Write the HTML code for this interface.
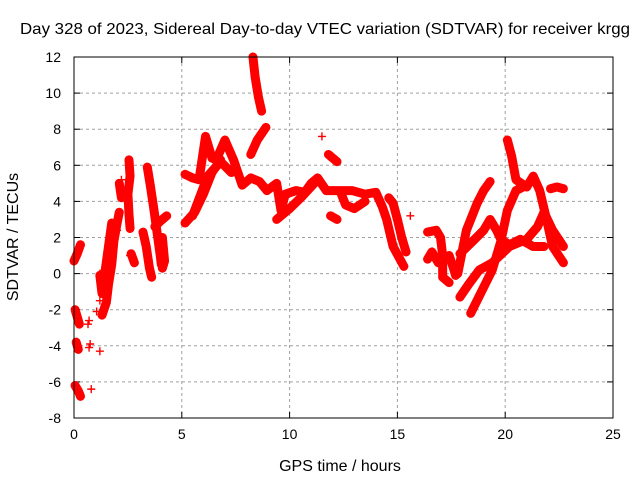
<!DOCTYPE html>
<html><head><meta charset="utf-8"><style>
body{margin:0;background:#fff;}
svg{display:block;font-family:"Liberation Sans",sans-serif;}
</style></head><body>
<svg id="chart" width="640" height="480" viewBox="0 0 640 480"></svg>
<script>
const xTicks=[0,5,10,15,20,25];
const yTicks=[-8,-6,-4,-2,0,2,4,6,8,10,12];
const trackEarly1=[[0.0,0.7],[0.15,1.1],[0.3,1.6]];
const trackEarly2=[[0.05,-2.0],[0.15,-2.4],[0.25,-2.8]];
const trackEarly3=[[0.1,-3.8],[0.2,-4.2]];
const trackEarly4=[[0.05,-6.2],[0.2,-6.5],[0.3,-6.8]];
const trackRise=[[1.3,-2.3],[1.5,-1.6],[1.6,-0.6],[1.75,0.5],[1.85,1.8],[2.0,2.8],[2.1,3.4]];
const trackRise2=[[1.2,-0.1],[1.3,-1.1],[1.6,1.5],[1.75,2.8]];
const trackSpike=[[2.55,6.3],[2.6,5.4],[2.5,4.4],[2.55,3.3],[2.6,2.5]];
const trackSpike2=[[2.1,5.0],[2.2,4.2]];
const trackC1=[[3.4,5.9],[3.55,4.8],[3.7,3.6],[3.85,2.3],[4.0,1.0],[4.05,0.5]];
const trackC2=[[3.75,2.6],[4.0,2.9],[4.3,3.2]];
const trackC3=[[3.2,2.3],[3.35,1.5],[3.5,0.3],[3.6,-0.2]];
const trackC4=[[2.65,1.1],[2.8,0.6]];
const trackC5=[[4.1,2.0],[4.2,0.7],[4.1,0.3]];
const trackM1=[[5.15,2.8],[5.6,3.4],[6.0,4.4],[6.4,5.6],[6.8,6.3]];
const trackM2=[[5.15,5.5],[5.5,5.3],[5.8,5.2],[6.1,7.6],[6.4,6.4],[6.6,6.3],[7.0,7.4],[7.4,6.3],[7.8,4.9],[8.2,5.3],[8.6,5.1],[8.95,4.6]];
const trackM3=[[5.5,3.2],[6.2,5.4],[6.8,6.2],[7.3,5.6]];
const trackTop=[[8.3,12.0],[8.4,10.9],[8.55,9.8],[8.7,9.0]];
const trackTop2=[[8.2,6.6],[8.5,7.4],[8.9,8.1]];
const trackM4=[[8.95,4.6],[9.4,5.0],[9.6,3.5],[9.8,4.4],[10.3,4.6],[10.7,4.5],[11.0,5.0],[11.3,5.3],[11.7,4.6],[12.2,4.6],[12.9,4.6],[13.5,4.4],[14.0,4.5],[14.3,3.7],[14.5,3.0],[14.8,1.5],[15.3,0.4]];
const trackM5=[[9.4,3.0],[10.0,3.6],[10.6,4.3],[11.3,5.2]];
const trackM6=[[14.6,4.2],[14.8,3.9],[15.0,3.0],[15.2,2.0],[15.4,1.2]];
const trackM7=[[11.8,6.6],[12.2,6.2]];
const trackM8=[[11.9,3.2],[12.2,3.0]];
const trackM9=[[12.4,4.4],[12.6,3.8],[13.0,3.6],[13.5,4.0]];
const trackR1=[[20.1,7.4],[20.3,6.5],[20.5,5.2],[21.0,4.8],[21.3,5.4],[21.6,4.6],[21.9,3.1],[22.2,1.5],[22.7,0.6]];
const trackR2=[[18.4,-2.2],[18.9,-1.0],[19.4,0.2],[19.8,1.8],[20.1,3.5],[20.5,4.6],[21.0,4.9]];
const trackR2b=[[22.1,4.7],[22.4,4.8],[22.7,4.7]];
const trackR3=[[17.9,-1.3],[18.3,-0.6],[18.8,0.2],[19.4,0.6],[20.2,1.5],[21.0,1.9],[21.5,2.6],[21.8,3.4],[22.2,2.4],[22.7,1.5]];
const trackR4=[[17.8,0.0],[18.0,1.2],[18.2,2.4],[18.5,3.3],[18.7,3.9],[19.0,4.6],[19.3,5.1]];
const trackR5=[[17.9,1.1],[18.5,1.8],[19.0,2.4],[19.3,3.0],[19.6,2.4],[19.8,1.9],[20.2,1.6],[20.7,1.9],[21.3,1.5],[21.8,1.5]];
const trackR6=[[16.4,2.3],[16.8,2.4],[17.0,2.0],[17.1,1.0],[17.1,-0.2],[17.4,-0.5]];
const trackR7=[[16.4,0.8],[16.6,1.2],[16.9,0.6]];
const trackR8=[[17.4,1.0],[17.6,0.3],[17.7,-0.1]];
const strayPoints=[[11.5,7.6],[15.6,3.2],[0.7,-2.6],[0.65,-2.8],[0.75,-3.9],[0.7,-4.1],[1.2,-4.3],[0.8,-6.4],[1.2,0.0],[1.2,-1.5],[1.05,-2.1],[2.2,5.2],[2.0,2.4],[2.6,1.0]];
const tracks=[trackEarly1,trackEarly2,trackEarly3,trackEarly4,trackRise,trackRise2,trackSpike,trackSpike2,trackC1,trackC2,trackC3,trackC4,trackC5,trackM1,trackM2,trackM3,trackTop,trackTop2,trackM4,trackM5,trackM6,trackM7,trackM8,trackM9,trackR1,trackR2,trackR2b,trackR3,trackR4,trackR5,trackR6,trackR7,trackR8];

const NS="http://www.w3.org/2000/svg";
const svg=document.getElementById('chart');
const X0=74,X1=613,Y0=418,Y1=57;
const xs=v=>X0+(v-0)/25*(X1-X0);
const ys=v=>Y0-(v+8)/20*(Y0-Y1);
function mk(t,a){const e=document.createElementNS(NS,t);for(const k in a)e.setAttribute(k,a[k]);svg.appendChild(e);return e;}

xTicks.forEach(t=>{
  const x=xs(t);
  if(t>0&&t<25){const g=mk('line',{x1:x,x2:x,y1:Y1,y2:Y0,stroke:'#a0a0a0','stroke-dasharray':'3,3'});
  
  }
  const l=mk('text',{x:x,y:Y0+21,'text-anchor':'middle','font-size':14,fill:'#000'});l.textContent=t;
  
  
  mk('line',{x1:x,x2:x,y1:Y0,y2:Y0-6,stroke:'#000'});mk('line',{x1:x,x2:x,y1:Y1,y2:Y1+6,stroke:'#000'});
});
yTicks.forEach(t=>{
  const y=ys(t);
  if(t>-8&&t<12){const g=mk('line',{x1:X0,x2:X1,y1:y,y2:y,stroke:'#a0a0a0','stroke-dasharray':'3,3'});
  
  }
  const l=mk('text',{x:X0-13,y:y+5,'text-anchor':'end','font-size':14,fill:'#000'});l.textContent=t;
  
  
  mk('line',{x1:X0,x2:X0+6,y1:y,y2:y,stroke:'#000'});mk('line',{x1:X1,x2:X1-6,y1:y,y2:y,stroke:'#000'});
});
tracks.forEach(tr=>{
  const pl=mk('polyline',{points:tr.map(p=>xs(p[0])+','+ys(p[1])).join(' '),fill:'none',stroke:'#ff0000','stroke-width':9,'stroke-linejoin':'round','stroke-linecap':'round'});
  
  
});
strayPoints.concat(...tracks).forEach(p=>{
  const x=xs(p[0]),y=ys(p[1]);
  const m=mk('path',{d:`M${x-4},${y}h8M${x},${y-4}v8`,stroke:'#ff0000','stroke-width':1.4});
  
  
});
const fr=mk('rect',{x:X0,y:Y1,width:X1-X0,height:Y0-Y1,fill:'none',stroke:'#000','stroke-width':1});


const ti=mk('text',{x:325,y:34,'text-anchor':'middle','font-size':16,fill:'#000',textLength:610,lengthAdjust:'spacingAndGlyphs'});ti.textContent='Day 328 of 2023, Sidereal Day-to-day VTEC variation (SDTVAR) for receiver krgg';


const xt=mk('text',{x:340,y:471,'text-anchor':'middle','font-size':16,fill:'#000'});xt.textContent='GPS time / hours';


const yt=mk('text',{x:0,y:0,'text-anchor':'middle','font-size':16,fill:'#000',transform:'translate(18,237) rotate(-90)'});yt.textContent='SDTVAR / TECUs';


</script>
</body></html>
